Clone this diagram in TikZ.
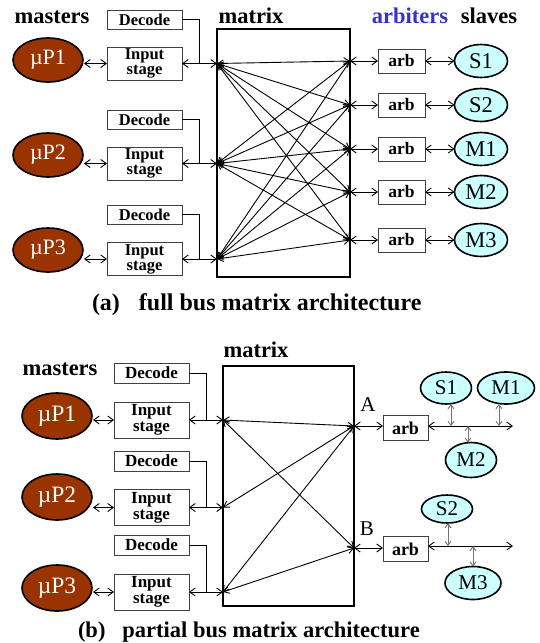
\documentclass[tikz,border=0pt]{standalone}
\usepackage{fontspec}
\setmainfont{Liberation Serif}
\usetikzlibrary{arrows.meta,shapes.geometric}

\definecolor{masterbrown}{HTML}{993300}
\definecolor{slavecyan}{HTML}{CCFFFF}
\definecolor{arbblue}{HTML}{3333CC}

\begin{document}
\begin{tikzpicture}[x=1pt,y=-1pt,
  every node/.style={inner sep=0pt, outer sep=0pt},
  master/.style={ellipse, draw=black, line width=1.6pt, fill=masterbrown, text=white,
    minimum width=70pt, minimum height=44pt, font=\fontsize{22}{22}\selectfont},
  slave/.style={ellipse, draw=black, line width=1.6pt, fill=slavecyan,
    minimum width=53pt, minimum height=33pt, font=\fontsize{22.5}{22.5}\selectfont},
  blk/.style={draw=black!75, line width=0.8pt, fill=white, minimum width=75pt,
    align=center, font=\bfseries\fontsize{16.5}{15}\selectfont},
  dec/.style={blk, minimum height=19pt},
  inp/.style={blk, minimum height=33pt},
  arbbox/.style={draw=black!75, line width=0.8pt, minimum width=47pt, minimum height=24pt,
    font=\bfseries\fontsize{17.5}{17.5}\selectfont},
  mat/.style={draw=black, line width=2.8pt},
  head/.style={anchor=base, font=\bfseries\fontsize{22.5}{22.5}\selectfont},
  wire/.style={line width=0.9pt},
  link/.style={line width=0.9pt, {Straight Barb[length=5.5pt,width=8pt]}-{Straight Barb[length=5.5pt,width=8pt]}},
  xlink/.style={line width=0.9pt, {Straight Barb[length=5.5pt,width=7pt]}-{Straight Barb[length=5.5pt,width=7pt]}},
  glink/.style={line width=0.9pt, draw=black!55, {Straight Barb[length=4pt,width=6pt]}-{Straight Barb[length=4pt,width=6pt]}},
  caption/.style={anchor=base west, font=\bfseries\fontsize{24}{24}\selectfont}
]
\useasboundingbox (0,0) rectangle (539,643);

% ---------------- (a) full bus matrix ----------------
\node[head] (hmastA) at (52,23) {masters};
\node[head] (hmatA)  at (251,23) {matrix};
\node[head, text=arbblue] (harbA) at (410,23) {arbiters};
\node[head] (hslvA)  at (489,23) {slaves};

\node[dec] (decA1) at (144.5,19.5) {Decode};
\node[inp] (inA1)  at (144.5,63.5) {Input\\stage};
\node[dec] (decA2) at (144.5,119.5) {Decode};
\node[inp] (inA2)  at (144.5,163.5) {Input\\stage};
\node[dec] (decA3) at (144.5,214.5) {Decode};
\node[inp] (inA3)  at (144.5,259) {Input\\stage};

\node[master] (pA1) at (48,60)  {µP1};
\node[master] (pA2) at (48,155) {µP2};
\node[master] (pA3) at (48,250) {µP3};

\node[mat, minimum width=133pt, minimum height=248pt] (mxA) at (283.5,153) {};

\foreach \i/\y/\name in {1/61/S1, 2/105/S2, 3/149/M1, 4/192/M2, 5/240/M3} {
  \node[arbbox] (arbA\i) at (401.5,\y) {arb};
  \node[slave] (sA\i) at (481,\y) {\name};
  \coordinate (aR\i) at (mxA.east |- arbA\i.center);
  \draw[link] (aR\i) -- (arbA\i.west);
  \draw[link] (arbA\i.east) -- (sA\i.west);
}

\foreach \i in {1,2,3} {
  \coordinate (aL\i) at (mxA.west |- inA\i.center);
  \coordinate (aJ\i) at (199,0 |- inA\i.center);
  \draw[wire] (decA\i.east) -| (aJ\i);
  \draw[link] (inA\i.east) -- (aL\i);
  \draw[link, shorten <=1pt] (pA\i.east |- inA\i.center) -- (inA\i.west);
  \foreach \j in {1,...,5} {
    \draw[xlink] (aL\i) -- (aR\j);
  }
}

\node[caption] (capA) at (92,310) {(a)\hspace{19pt}full bus matrix architecture};

% ---------------- (b) partial bus matrix ----------------
\node[head] (hmatB)  at (256,357) {matrix};
\node[head] (hmastB) at (60,375) {masters};

\node[dec, minimum height=20pt, font=\bfseries\fontsize{17}{15}\selectfont] (decB1) at (151.5,373) {Decode};
\node[inp, minimum height=36pt, font=\bfseries\fontsize{17}{16}\selectfont] (inB1)  at (151.5,420) {Input\\stage};
\node[dec, minimum height=20pt, font=\bfseries\fontsize{17}{15}\selectfont] (decB2) at (151.5,461) {Decode};
\node[inp, minimum height=36pt, font=\bfseries\fontsize{17}{16}\selectfont] (inB2)  at (151.5,507.5) {Input\\stage};
\node[dec, minimum height=20pt, font=\bfseries\fontsize{17}{15}\selectfont] (decB3) at (151.5,545) {Decode};
\node[inp, minimum height=36pt, font=\bfseries\fontsize{17}{16}\selectfont] (inB3)  at (151.5,592) {Input\\stage};

\node[master, minimum height=46pt, font=\fontsize{23.5}{23.5}\selectfont] (pB1) at (57,416) {µP1};
\node[master, minimum height=46pt, font=\fontsize{23.5}{23.5}\selectfont] (pB2) at (57,497) {µP2};
\node[master, minimum height=46pt, font=\fontsize{23.5}{23.5}\selectfont] (pB3) at (57,588) {µP3};

\node[mat, minimum width=131pt, minimum height=240pt] (mxB) at (288.5,486) {};

\foreach \i in {1,2,3} {
  \coordinate (bL\i) at (mxB.west |- inB\i.center);
  \coordinate (bJ\i) at (206,0 |- inB\i.center);
  \draw[wire] (decB\i.east) -| (bJ\i);
  \draw[link] (inB\i.east) -- (bL\i);
  \draw[link, shorten <=1pt] (pB\i.east |- inB\i.center) -- (inB\i.west);
}

\coordinate (bRA) at (mxB.east |- 0,426);
\coordinate (bRB) at (mxB.east |- 0,548);
\node[font=\fontsize{21}{21}\selectfont] (labA) at (368,405) {A};
\node[font=\fontsize{21}{21}\selectfont] (labB) at (367,529) {B};

\foreach \a/\b in {1/A, 1/B, 2/A, 3/A, 3/B} {
  \draw[xlink] (bL\a) -- (bR\b);
}

\node[arbbox, minimum width=45pt, minimum height=25pt, font=\bfseries\fontsize{18}{18}\selectfont] (arbBA) at (405.5,428) {arb};
\node[arbbox, minimum width=45pt, minimum height=25pt, font=\bfseries\fontsize{18}{18}\selectfont] (arbBB) at (405.5,549) {arb};
\draw[link] (bRA) -- (arbBA.west |- bRA);
\draw[link] (bRB) -- (arbBB.west |- bRB);

% shared buses behind the arbiters
\coordinate (busA) at (513,426);
\coordinate (busB) at (513,546);
\draw[link] (arbBA.east |- busA) -- (busA);
\draw[link] (arbBB.east |- busB) -- (busB);

\node[slave, minimum width=51pt, minimum height=32pt, font=\fontsize{21}{21}\selectfont] (s1B) at (446,388) {S1};
\node[slave, minimum width=57pt, minimum height=32pt, font=\fontsize{21}{21}\selectfont] (m1B) at (506,388) {M1};
\node[slave, minimum width=51pt, minimum height=35pt, font=\fontsize{21}{21}\selectfont] (m2B) at (471,460) {M2};
\node[slave, minimum width=51pt, minimum height=28pt, font=\fontsize{21}{21}\selectfont] (s2B) at (447,509) {S2};
\node[slave, minimum width=56pt, minimum height=33pt, font=\fontsize{21}{21}\selectfont] (m3B) at (473,583) {M3};

\coordinate (tS1) at (451,426);
\coordinate (tM1) at (499,426);
\coordinate (tM2) at (468,426);
\coordinate (tS2) at (448,546);
\coordinate (tM3) at (473,546);
\draw[glink] (tS1 |- s1B.south) -- (tS1);
\draw[glink] (tM1 |- m1B.south) -- (tM1);
\draw[glink] (tM2) -- (tM2 |- m2B.north);
\draw[glink] (tS2 |- s2B.south) -- (tS2);
\draw[glink] (tM3) -- (tM3 |- m3B.north);

\node[caption, font=\bfseries\fontsize{22.5}{22.5}\selectfont] (capB) at (78,637) {(b)\hspace{17pt}partial bus matrix architecture};

\end{tikzpicture}
\end{document}
